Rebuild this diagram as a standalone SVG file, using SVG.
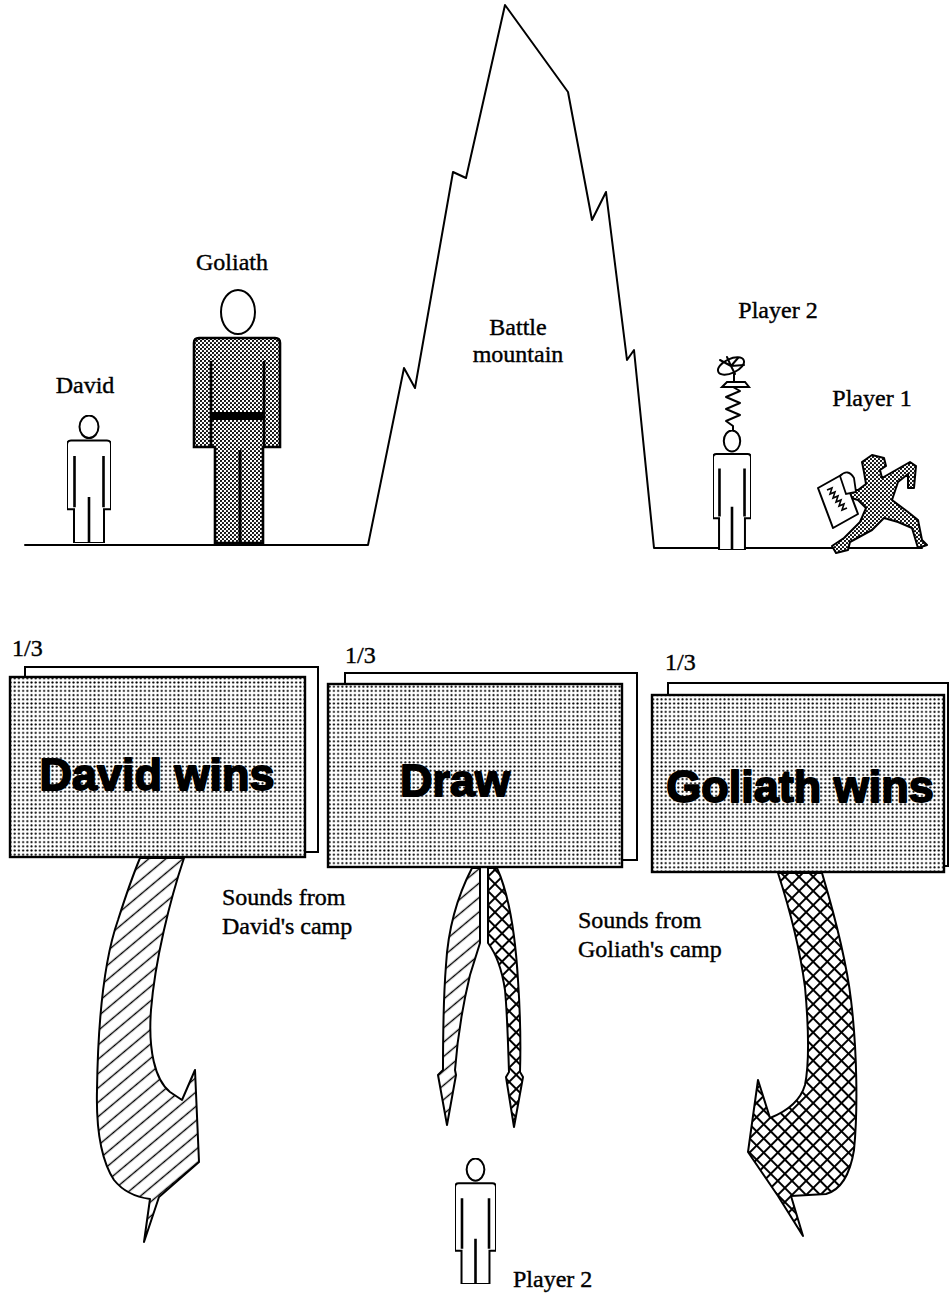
<svg xmlns="http://www.w3.org/2000/svg" xmlns:xlink="http://www.w3.org/1999/xlink" width="951" height="1303" viewBox="0 0 951 1303">
  <style>
    .ln { fill: none; stroke: #000; stroke-width: 2; stroke-linejoin: round; stroke-linecap: round; }
    .lbl { font-family: "Liberation Serif", "Times New Roman", serif; font-size: 24px; fill: #000; stroke: #000; stroke-width: 0.4; }
    .big { font-family: "Liberation Sans", Arial, sans-serif; font-weight: bold; font-size: 45px; fill: #000; stroke: #000; stroke-width: 1.8; stroke-linejoin: round; }
    .sheet { fill: #fff; stroke: #000; stroke-width: 2; }
    .card { fill: url(#dots); stroke: #000; stroke-width: 2.4; }
    .slit { stroke: #000; stroke-width: 2.6; stroke-linecap: round; fill: none; }
  </style>
  <defs>
    <!-- halftone screen for the outcome cards -->
    <pattern id="dots" patternUnits="userSpaceOnUse" width="4.2" height="4.2">
      <rect width="4.2" height="4.2" fill="#fff"/>
      <circle cx="2.1" cy="2.1" r="1.05" fill="#000"/>
    </pattern>
    <!-- denser stipple for Goliath and the runner -->
    <pattern id="stipple" patternUnits="userSpaceOnUse" width="4" height="4">
      <rect width="4" height="4" fill="#fff"/>
      <circle cx="1" cy="1" r="1.1" fill="#000"/>
      <circle cx="3" cy="3" r="1.1" fill="#000"/>
    </pattern>
    <!-- single hatching -->
    <pattern id="hatch" patternUnits="userSpaceOnUse" width="11" height="11" patternTransform="rotate(-40)">
      <rect width="11" height="11" fill="#fff"/>
      <path d="M0,5.5 H11" stroke="#000" stroke-width="1.4"/>
    </pattern>
    <!-- cross hatching -->
    <pattern id="cross" patternUnits="userSpaceOnUse" width="10" height="10" patternTransform="rotate(45)">
      <rect width="10" height="10" fill="#fff"/>
      <path d="M0,5 H10 M5,0 V10" stroke="#000" stroke-width="2"/>
    </pattern>
    <!-- plain standing figure -->
    <symbol id="person" viewBox="0 0 44 125" preserveAspectRatio="none">
      <ellipse cx="22" cy="11.5" rx="9.5" ry="11" fill="#fff" stroke="#000" stroke-width="2" vector-effect="non-scaling-stroke"/>
      <path d="M4,25 H40 Q44,25 44,29 V92 H37 V125 H7 V92 H0 V29 Q0,25 4,25 Z" fill="#fff" stroke="#000" stroke-width="2" vector-effect="non-scaling-stroke"/>
      <path d="M7.5,40 V90 M36.5,40 V90 M22,80 V125" stroke="#000" stroke-width="2.6" fill="none" vector-effect="non-scaling-stroke"/>
    </symbol>
  </defs>

  <rect width="951" height="1303" fill="#fff"/>

  <!-- ground and mountain -->
  <g id="mountain">
    <path class="ln" d="M25,545 H368 L404,368 L415,388 L453,172 L466,178 L505,5 L568,92 L592,220 L606,192 L627,360 L634,350 L654,548 H922"/>
    <text class="lbl" x="518" y="335" text-anchor="middle">Battle</text>
    <text class="lbl" x="518" y="362" text-anchor="middle">mountain</text>
  </g>

  <g id="david">
    <text class="lbl" x="85" y="393" text-anchor="middle">David</text>
    <use xlink:href="#person" x="67" y="415" width="44" height="128"/>
  </g>

  <g id="goliath">
    <text class="lbl" x="232" y="270" text-anchor="middle">Goliath</text>
    <ellipse cx="238" cy="312" rx="17" ry="22" fill="#fff" stroke="#000" stroke-width="2"/>
    <path d="M199,338 H275 Q280,338 280,343 V447 H263 V543 H215 V447 H194 V343 Q194,338 199,338 Z" fill="url(#stipple)" stroke="#000" stroke-width="2.6"/>
    <path class="slit" d="M211,362 V446 M264,362 V446"/>
    <path d="M240,450 V543" stroke="#000" stroke-width="3"/>
    <rect x="211" y="412" width="53" height="8" fill="#000"/>
  </g>

  <g id="player2-top">
    <text class="lbl" x="778" y="318" text-anchor="middle">Player 2</text>
    <!-- spring -->
    <polyline class="ln" points="733,430 733,426 726,421 740,415 726,409 740,403 726,397 740,391 733,387 733,384"/>
    <!-- dish on its mount -->
    <path d="M722,387 L749,387 L745,382 L727,382 Z" fill="#fff" stroke="#000" stroke-width="2"/>
    <path class="ln" d="M734,382 V374"/>
    <ellipse cx="731" cy="366" rx="14" ry="7" transform="rotate(-25 731 366)" fill="#fff" stroke="#000" stroke-width="2"/>
    <path class="ln" d="M731,366 L720,360 M731,366 L727,357 M731,366 L738,358 M731,366 L744,365 M731,366 L735,374"/>
    <use xlink:href="#person" x="713" y="430" width="38" height="120"/>
  </g>

  <g id="player1">
    <text class="lbl" x="872" y="406" text-anchor="middle">Player 1</text>
    <path d="M862,462 L872,455 L884,458 L886,466 L880,470 L882,478 L896,470 L910,462 L916,466 L914,488 L908,488 L908,474 L898,482 L892,500 L908,512 L918,520 L922,540 L927,545 L918,548 L912,528 L898,522 L884,518 L872,530 L850,542 L848,550 L836,553 L832,546 L844,538 L860,522 L866,508 L858,500 L848,497 L846,490 L858,490 L866,484 L864,472 Z" fill="url(#stipple)" stroke="#000" stroke-width="2" stroke-linejoin="round"/>
    <path d="M818,488 L843,474 L858,514 L833,528 Z" fill="#fff" stroke="#000" stroke-width="2" stroke-linejoin="round"/>
    <path d="M840,476 Q848,468 854,478 L856,492 L846,494 Z" fill="#fff" stroke="#000" stroke-width="1.8"/>
    <polyline points="827,490 832,488 830,494 835,492 833,498 838,496 836,502 841,500 839,506 844,504 842,510 847,508" fill="none" stroke="#000" stroke-width="1.6"/>
  </g>

  <!-- outcome cards -->
  <g id="card-david">
    <text class="lbl" x="12" y="656">1/3</text>
    <rect class="sheet" x="25" y="667" width="293" height="185"/>
    <rect class="card" x="10" y="677" width="295" height="180"/>
    <text class="big" x="157" y="790" text-anchor="middle">David wins</text>
  </g>
  <g id="card-draw">
    <text class="lbl" x="345" y="663">1/3</text>
    <rect class="sheet" x="345" y="673" width="292" height="187"/>
    <rect class="card" x="328" y="684" width="294" height="183"/>
    <text class="big" x="455" y="796" text-anchor="middle">Draw</text>
  </g>
  <g id="card-goliath">
    <text class="lbl" x="665" y="670">1/3</text>
    <rect class="sheet" x="668" y="683" width="280" height="183"/>
    <rect class="card" x="652" y="695" width="292" height="177"/>
    <text class="big" x="800" y="802" text-anchor="middle">Goliath wins</text>
  </g>

  <!-- sound arrows -->
  <g id="connectors" stroke="#000" stroke-width="2" stroke-linejoin="round">
    <path fill="url(#hatch)" d="M140,858 L184,858 C170,900 155,960 151,1010 C148,1050 155,1080 170,1092 L182,1100 L195,1070 L199,1162 L159,1197 L144,1242 L150,1199 C135,1197 122,1190 114,1180 C101,1160 96,1130 97,1090 C98,1020 104,960 118,920 C126,895 133,875 140,858 Z"/>
    <path fill="url(#cross)" d="M778,873 L822,873 C830,900 845,950 851,1000 C857,1050 858,1110 854,1150 C850,1175 840,1190 826,1194 L791,1196 L803,1236 L778,1196 L748,1152 L758,1080 L770,1118 C785,1112 800,1102 805,1085 C810,1060 808,1020 805,987 C800,950 790,910 778,873 Z"/>
    <path fill="url(#hatch)" d="M472,868 L480,868 L480,943 L470,975 C464,1000 458,1030 455,1070 L456,1075 L447,1125 L438,1075 L443,1070 C443,1030 444,990 446,965 C448,930 458,895 472,868 Z"/>
    <path fill="url(#cross)" d="M488,868 L497,868 C507,890 515,930 518,980 C520,1010 521,1040 520,1072 L523,1077 L514,1127 L506,1077 L509,1072 C508,1040 507,1010 505,990 C502,970 497,955 488,943 Z"/>
  </g>

  <g id="captions">
    <text class="lbl" x="222" y="905">Sounds from</text>
    <text class="lbl" x="222" y="934">David's camp</text>
    <text class="lbl" x="578" y="928">Sounds from</text>
    <text class="lbl" x="578" y="957">Goliath's camp</text>
  </g>

  <g id="player2-bottom">
    <use xlink:href="#person" x="455" y="1158" width="41" height="126"/>
    <text class="lbl" x="513" y="1287">Player 2</text>
  </g>
</svg>
